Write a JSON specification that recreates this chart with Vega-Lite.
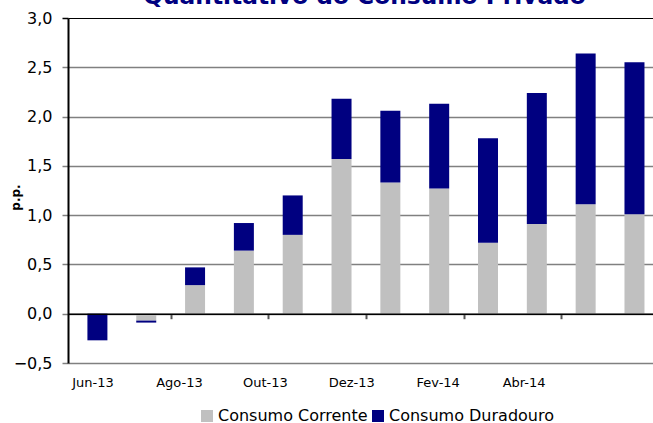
{
  "$schema": "https://vega.github.io/schema/vega-lite/v6.json",
  "width": 585,
  "height": 345,
  "autosize": "none",
  "padding": {"left": 68, "top": 18, "right": 0, "bottom": 60},
  "background": "white",
  "config": {"view": {"stroke": null}},
  "title": {
    "text": "Quantitativo do Consumo Privado",
    "color": "#000080",
    "font": "DejaVu Sans",
    "fontSize": 23.3,
    "fontWeight": "bold",
    "anchor": "middle",
    "frame": "group",
    "baseline": "alphabetic",
    "offset": -17,
    "dx": 4
  },
  "data": {
    "values": [
      {"idx": 0, "mes": "Jun-13", "componente": "Consumo Corrente", "valor": 0.0},
      {"idx": 0, "mes": "Jun-13", "componente": "Consumo Duradouro", "valor": -0.27},
      {"idx": 1, "mes": "Jul-13", "componente": "Consumo Corrente", "valor": -0.07},
      {"idx": 1, "mes": "Jul-13", "componente": "Consumo Duradouro", "valor": -0.02},
      {"idx": 2, "mes": "Ago-13", "componente": "Consumo Corrente", "valor": 0.29},
      {"idx": 2, "mes": "Ago-13", "componente": "Consumo Duradouro", "valor": 0.18},
      {"idx": 3, "mes": "Set-13", "componente": "Consumo Corrente", "valor": 0.64},
      {"idx": 3, "mes": "Set-13", "componente": "Consumo Duradouro", "valor": 0.28},
      {"idx": 4, "mes": "Out-13", "componente": "Consumo Corrente", "valor": 0.80},
      {"idx": 4, "mes": "Out-13", "componente": "Consumo Duradouro", "valor": 0.40},
      {"idx": 5, "mes": "Nov-13", "componente": "Consumo Corrente", "valor": 1.57},
      {"idx": 5, "mes": "Nov-13", "componente": "Consumo Duradouro", "valor": 0.61},
      {"idx": 6, "mes": "Dez-13", "componente": "Consumo Corrente", "valor": 1.33},
      {"idx": 6, "mes": "Dez-13", "componente": "Consumo Duradouro", "valor": 0.73},
      {"idx": 7, "mes": "Jan-14", "componente": "Consumo Corrente", "valor": 1.27},
      {"idx": 7, "mes": "Jan-14", "componente": "Consumo Duradouro", "valor": 0.86},
      {"idx": 8, "mes": "Fev-14", "componente": "Consumo Corrente", "valor": 0.72},
      {"idx": 8, "mes": "Fev-14", "componente": "Consumo Duradouro", "valor": 1.06},
      {"idx": 9, "mes": "Mar-14", "componente": "Consumo Corrente", "valor": 0.91},
      {"idx": 9, "mes": "Mar-14", "componente": "Consumo Duradouro", "valor": 1.33},
      {"idx": 10, "mes": "Abr-14", "componente": "Consumo Corrente", "valor": 1.11},
      {"idx": 10, "mes": "Abr-14", "componente": "Consumo Duradouro", "valor": 1.53},
      {"idx": 11, "mes": "Mai-14", "componente": "Consumo Corrente", "valor": 1.01},
      {"idx": 11, "mes": "Mai-14", "componente": "Consumo Duradouro", "valor": 1.54}
    ]
  },
  "mark": {"type": "bar", "size": 20},
  "encoding": {
    "x": {
      "field": "idx",
      "type": "quantitative",
      "scale": {"domain": [-0.5, 11.277], "nice": false, "zero": false},
      "axis": {
        "orient": "bottom",
        "offset": -49.29,
        "zindex": 1,
        "title": null,
        "grid": false,
        "values": [1.5, 3.5, 5.5, 7.5, 9.5, -0.1, 1.67, 3.43, 5.2, 6.97, 8.73],
        "labelExpr": "abs(datum.value % 2) == 1.5 ? '' : datum.value < 0 ? 'Jun-13' : datum.value < 2 ? 'Ago-13' : datum.value < 4 ? 'Out-13' : datum.value < 6 ? 'Dez-13' : datum.value < 7.5 ? 'Fev-14' : 'Abr-14'",
        "labelOverlap": false,
        "labelBound": false,
        "labelFlush": false,
        "labelFont": "DejaVu Sans",
        "labelFontSize": 13,
        "labelColor": "black",
        "labelPadding": 58,
        "domainColor": "black",
        "domainWidth": 1.5,
        "tickColor": "#555555",
        "tickWidth": 2,
        "tickSize": 5,
        "tickOpacity": {"condition": {"test": "abs(datum.value % 2) == 1.5", "value": 1}, "value": 0}
      }
    },
    "y": {
      "field": "valor",
      "type": "quantitative",
      "stack": "zero",
      "scale": {"domain": [-0.5, 3], "nice": false, "zero": false},
      "axis": {
        "values": [-0.5, 0, 0.5, 1, 1.5, 2, 2.5, 3],
        "labelExpr": "replace(format(datum.value, '.1f'), '.', ',')",
        "labelFont": "DejaVu Sans",
        "labelFontSize": 16,
        "labelColor": "black",
        "labelPadding": 10,
        "tickSize": 6,
        "tickWidth": 1.5,
        "tickColor": {"condition": {"test": "datum.value == 3", "value": "black"}, "value": "#808080"},
        "domainColor": "black",
        "domainWidth": 2,
        "grid": true,
        "gridColor": {"condition": {"test": "datum.value == 3", "value": "black"}, "value": "#808080"},
        "gridWidth": {"condition": {"test": "datum.value == 3", "value": 1}, "value": 1.5},
        "gridOpacity": 1,
        "title": "p.p.",
        "titleFont": "DejaVu Sans",
        "titleFontSize": 12,
        "titleFontWeight": "bold",
        "titleColor": "black",
        "titleAngle": 270,
        "titleAlign": "center",
        "titleBaseline": "middle",
        "titleX": -53,
        "titleY": 179
      }
    },
    "color": {
      "field": "componente",
      "type": "nominal",
      "scale": {"domain": ["Consumo Corrente", "Consumo Duradouro"], "range": ["#C0C0C0", "#000080"]},
      "legend": {
        "orient": "none",
        "legendX": 131,
        "legendY": 390,
        "direction": "horizontal",
        "title": null,
        "padding": 0,
        "symbolType": "square",
        "symbolSize": 144,
        "symbolStrokeWidth": 0,
        "symbolOpacity": 1,
        "labelFont": "DejaVu Sans",
        "labelFontSize": 16,
        "labelColor": "black",
        "labelOffset": 3,
        "columnPadding": 2,
        "labelLimit": 300
      }
    },
    "order": {"field": "componente", "sort": "ascending"},
    "tooltip": [
      {"field": "mes", "type": "nominal"},
      {"field": "componente", "type": "nominal"},
      {"field": "valor", "type": "quantitative"}
    ]
  }
}
